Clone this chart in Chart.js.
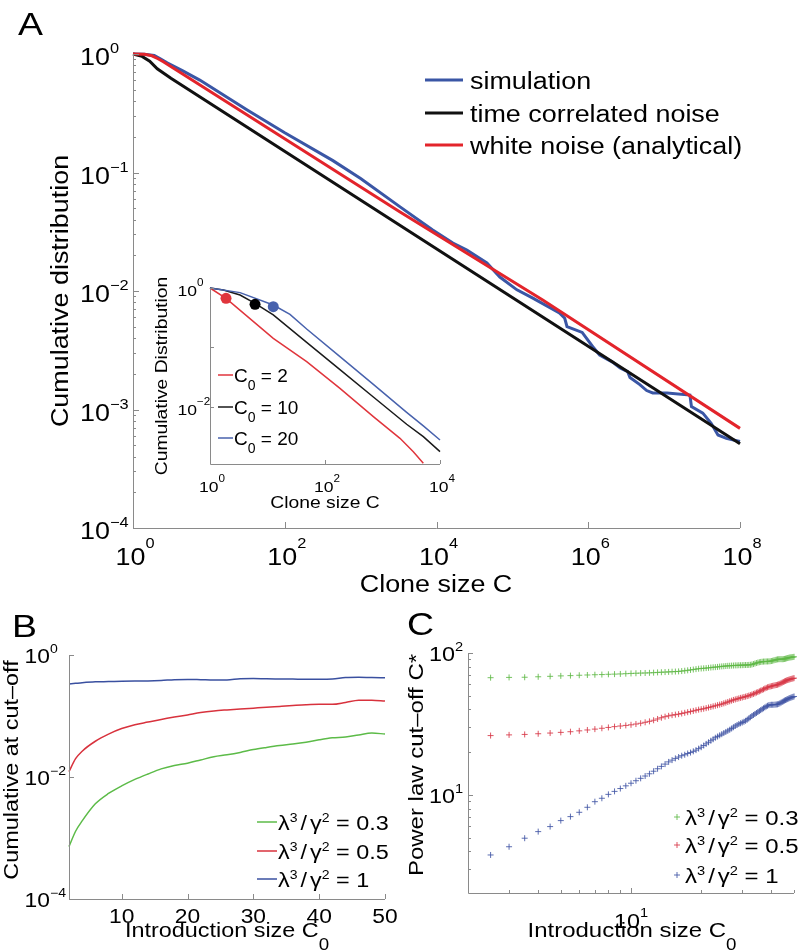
<!DOCTYPE html>
<html><head><meta charset="utf-8">
<script src="https://cdn.jsdelivr.net/npm/chart.js@4.4.1/dist/chart.umd.min.js"></script>
<style>
html,body{margin:0;padding:0;background:#fff;}
#wrap{position:relative;width:799px;height:952px;overflow:hidden;background:#fff;}
canvas{position:absolute;left:0;top:0;}
</style></head><body>
<div id="wrap">
<canvas id="cA" width="799" height="952"></canvas>
<canvas id="cI" width="799" height="952"></canvas>
<canvas id="cB" width="799" height="952"></canvas>
<canvas id="cC" width="799" height="952"></canvas>
</div>
<script>
// ---------------- Panel A (main) ----------------
const seriesNamesA = ['simulation', 'time correlated noise', 'white noise (analytical)'];
const simC = [1, 1.413, 1.905, 2.291, 2.818, 4.467, 7.586, 31.62, 100, 431.5, 1000, 3311, 8913, 16444, 25119, 46132, 68391, 114815, 186209, 416869, 489779, 524807, 831764, 1148154, 1412538, 2089296, 2630268, 3311311, 3548134, 4786301, 5888437, 7079458, 10964782, 21877616, 22908677, 32359366, 41686938, 51286138, 66069345, 1e8];
const simP = [1, 0.9954, 0.9727, 0.912, 0.8414, 0.724, 0.6026, 0.3388, 0.2163, 0.1259, 0.08913, 0.05129, 0.03273, 0.02541, 0.02218, 0.01722, 0.01312, 0.01023, 0.00871, 0.006516, 0.005888, 0.005012, 0.004467, 0.003388, 0.002884, 0.002512, 0.002239, 0.002089, 0.001862, 0.001622, 0.001445, 0.00138, 0.00138, 0.001324, 0.001057, 0.000933, 0.000764, 0.00061, 0.000571, 0.000537];
const tcnC = [1, 1.318, 1.660, 2.089, 3.162, 1e8];
const tcnP = [1, 0.955, 0.871, 0.750, 0.624, 0.000513];
const wnC = [1, 1.413, 1.778, 2.138, 2.512, 3311, 251189, 1e8];
const wnP = [1, 0.9931, 0.966, 0.912, 0.859, 0.04645, 0.008395, 0.000693];
const aXTicks = [1, 1e2, 1e4, 1e6, 1e8];
const aXExp = ['0', '2', '4', '6', '8'];
const aYTicks = [1, 1e-1, 1e-2, 1e-3, 1e-4];
const aYExp = ['0', '\u22121', '\u22122', '\u22123', '\u22124'];

// ---------------- Panel A (inset) ----------------
const insLegend = ['2', '10', '20'];
const insRedC = [1, 1.9, 12.6, 48, 182, 693, 2014, 3436, 5129];
const insRedP = [1, 0.67, 0.1426, 0.0578, 0.0206, 0.00687, 0.00297, 0.001774, 0.00113];
const insBlackC = [1, 1.71, 3.33, 6.07, 12.6, 48, 182, 693, 2630, 5129, 10000];
const insBlackP = [1, 0.925, 0.762, 0.552, 0.352, 0.122, 0.0424, 0.01472, 0.00512, 0.00317, 0.001774];
const insBlueC = [1, 3.33, 12.6, 24.6, 48, 182, 693, 2630, 5129, 10000];
const insBlueP = [1, 0.836, 0.518, 0.3606, 0.2046, 0.0702, 0.02404, 0.00813, 0.0048, 0.00279];
const insDotC = [1.9, 6.07, 12.6];
const insDotP = [0.67, 0.532, 0.485];
const insXTicks = [1, 1e2, 1e4];
const insXExp = ['0', '2', '4'];
const insYTicks = [1, 1e-2];
const insYExp = ['0', '\u22122'];

// ---------------- Panel B ----------------
const ratioLabels = ['0.3', '0.5', '1'];
const bC0 = [2, 3, 4, 6, 8, 10, 12, 14, 16, 18, 20, 22, 24, 26, 28, 30, 32, 34, 36, 38, 40, 42, 44, 46, 48, 50];
const bP03 = [7.21e-4, 1.29e-3, 1.905e-3, 3.63e-3, 5.37e-3, 7.14e-3, 9.12e-3, 1.122e-2, 1.358e-2, 1.549e-2, 1.687e-2, 1.905e-2, 2.148e-2, 2.312e-2, 2.529e-2, 2.818e-2, 3.055e-2, 3.281e-2, 3.467e-2, 3.715e-2, 4.074e-2, 4.385e-2, 4.529e-2, 4.898e-2, 5.248e-2, 5.07e-2];
const bP05 = [1.222e-2, 1.995e-2, 2.649e-2, 3.855e-2, 5.047e-2, 6.223e-2, 7.194e-2, 7.943e-2, 8.77e-2, 9.59e-2, 0.1042, 0.1138, 0.1208, 0.1259, 0.1306, 0.1346, 0.1387, 0.1435, 0.1483, 0.1528, 0.1552, 0.1552, 0.1667, 0.1807, 0.182, 0.1762];
const bP1 = [0.335, 0.343, 0.351, 0.363, 0.367, 0.372, 0.375, 0.376, 0.382, 0.394, 0.398, 0.394, 0.389, 0.391, 0.407, 0.412, 0.407, 0.405, 0.403, 0.400, 0.400, 0.403, 0.427, 0.431, 0.427, 0.425];
const bXTicks = [10, 20, 30, 40, 50];
const bYTicks = [1, 1e-2, 1e-4];
const bYExp = ['0', '\u22122', '\u22124'];

// ---------------- Panel C ----------------
const cC0 = [2.5,3,3.5,4,4.5,5,5.5,6,6.5,7,
  7.5,8,8.5,9,9.5,10,10.5,11,11.5,12,
  12.5,13,13.5,14,14.5,15,15.5,16,16.5,17,
  17.5,18,18.5,19,19.5,20,20.5,21,21.5,22,
  22.5,23,23.5,24,24.5,25,25.5,26,26.5,27,
  27.5,28,28.5,29,29.5,30,30.5,31,31.5,32,
  32.5,33,33.5,34,34.5,35,35.5,36,36.5,37,
  37.5,38,38.5,39,39.5,40,40.5,41,41.5,42,
  42.5,43,43.5,44,44.5,45,45.5,46,46.5,47,
  47.5,48,48.5,49,49.5,50];
const cStar03 = [67,67.3,67.5,68,68.5,69,69.3,69.7,70,70.3,
  70.5,70.8,71,71.2,71.5,71.8,72,72.2,72.3,72.5,
  72.7,73,73.2,73.4,73.6,73.8,74,74.2,74.6,75,
  75.5,76,76.5,77,77.5,77.8,78,78.3,78.6,79,
  79.3,79.5,79.8,80.2,80.5,80.7,81,81.2,81.3,81.5,
  81.6,81.8,81.8,82,82,82.1,82.2,82.3,82.3,82.4,
  82.6,83,83.6,84.3,85,85.6,86.1,86.5,86.8,87,
  87.1,87.2,87.2,87.3,87.5,87.8,88.2,88.8,89.3,89.8,
  90.2,90.4,90.5,90.5,90.4,90.5,90.8,91.2,91.7,92.2,
  92.6,93,93.2,93.4,93.7,94];
const cStar05 = [26.2,26.5,26.7,27,27.3,27.6,27.9,28.3,28.7,29.1,
  29.5,29.9,30.3,30.6,30.9,31.2,31.6,32,32.5,33,
  33.6,34.3,35,35.6,36.1,36.5,36.8,37.1,37.5,37.9,
  38.3,38.7,39.1,39.5,39.9,40.2,40.5,40.9,41.3,41.7,
  42.1,42.5,42.9,43.3,43.7,44.2,44.7,45.2,45.7,46.2,
  46.7,47.1,47.5,47.9,48.3,48.6,49,49.3,49.7,50.1,
  50.5,51,51.5,52,52.6,53.1,53.7,54.3,54.9,55.5,
  56.2,56.8,57.3,57.7,58.1,58.4,58.7,59,59.3,59.5,
  59.8,60.2,60.7,61.3,61.9,62.5,63.1,63.6,64.1,64.5,
  64.9,65.2,65.6,65.9,66.2,66.5];
const cStar1 = [3.78,4.32,4.96,5.52,5.99,6.6,7.04,7.55,8.19,8.97,
  9.48,10.1,10.6,11.1,11.6,12.1,12.6,13.1,13.6,14.1,
  14.7,15.3,15.9,16.5,17.1,17.6,18.1,18.5,18.9,19.2,
  19.6,19.9,20.3,20.7,21.2,21.7,22.3,22.9,23.5,24.1,
  24.7,25.3,25.8,26.3,26.8,27.3,27.8,28.3,28.8,29.4,
  30,30.6,31.1,31.6,32,32.4,32.8,33.3,33.9,34.6,
  35.3,36,36.6,37.2,37.8,38.4,39,39.6,40.2,40.8,
  41.4,42,42.5,42.9,43.1,43.2,43.2,43.2,43.3,43.4,
  43.5,43.8,44.2,44.7,45.2,45.7,46.2,46.6,47,47.4,
  47.8,48.2,48.5,48.8,49.1,49.4];
const cXTicks = [10];
const cXExp = ['1'];
const cXMinor = [3, 4, 5, 6, 7, 8, 9, 20, 30, 40, 50];
const cYTicks = [100, 10];
const cYExp = ['2', '1'];
const cYMinor = [3, 4, 5, 6, 7, 8, 9, 20, 30, 40, 50, 60, 70, 80, 90];

// ---------------- helpers ----------------
const FONT = '"Liberation Sans", Arial, Helvetica, sans-serif';
const SX = 1.17;
const AX = '#8a8a8a';
const pts = (xs, ys) => xs.map((x, i) => ({x: x, y: ys[i]}));
function setFont(ctx, s) { ctx.font = s + 'px ' + FONT; }
function partsWidth(ctx, parts, sx) {
  let w = 0;
  for (const p of parts) { if (p.gap) { w += p.gap; continue; } setFont(ctx, p.s); w += ctx.measureText(p.t).width * sx; }
  return w;
}
function rich(ctx, parts, x, y, align, rot, sx) {
  sx = sx || SX;
  ctx.save();
  ctx.translate(x, y);
  if (rot) ctx.rotate(rot);
  const w = partsWidth(ctx, parts, sx);
  let cx = align === 'center' ? -w / 2 : (align === 'right' ? -w : 0);
  ctx.fillStyle = '#000'; ctx.textAlign = 'left'; ctx.textBaseline = 'alphabetic';
  for (const p of parts) {
    if (p.gap) { cx += p.gap; continue; }
    setFont(ctx, p.s);
    ctx.save(); ctx.translate(cx, p.dy || 0); ctx.scale(sx, 1); ctx.fillText(p.t, 0, 0); ctx.restore();
    cx += ctx.measureText(p.t).width * sx;
  }
  ctx.restore();
}
function txt(ctx, t, s, x, y, align, rot, sx) { rich(ctx, [{t: t, s: s}], x, y, align, rot, sx); }
function powParts(exp, s, es, raise) { return [{t: '10', s: s}, {t: exp, s: es, dy: -raise}]; }
function w10(ctx, s, sx) { setFont(ctx, s); return ctx.measureText('10').width * (sx || SX); }
function axes(ctx, ca) {
  ctx.save(); ctx.strokeStyle = AX; ctx.lineWidth = 1;
  ctx.beginPath();
  ctx.moveTo(Math.round(ca.left) + 0.5, Math.round(ca.top));
  ctx.lineTo(Math.round(ca.left) + 0.5, Math.round(ca.bottom) + 0.5);
  ctx.lineTo(Math.round(ca.right), Math.round(ca.bottom) + 0.5);
  ctx.stroke(); ctx.restore();
}
function xTick(ctx, ca, px, len) {
  ctx.save(); ctx.strokeStyle = AX; ctx.lineWidth = 1; ctx.beginPath();
  const x = Math.round(px) + 0.5; ctx.moveTo(x, ca.bottom); ctx.lineTo(x, ca.bottom - len); ctx.stroke(); ctx.restore();
}
function yTick(ctx, ca, py, len) {
  ctx.save(); ctx.strokeStyle = AX; ctx.lineWidth = 1; ctx.beginPath();
  const y = Math.round(py) + 0.5; ctx.moveTo(ca.left, y); ctx.lineTo(ca.left + len, y); ctx.stroke(); ctx.restore();
}
function hseg(ctx, x1, x2, y, col, lw) {
  ctx.save(); ctx.strokeStyle = col; ctx.lineWidth = lw; ctx.beginPath(); ctx.moveTo(x1, y); ctx.lineTo(x2, y); ctx.stroke(); ctx.restore();
}
function ratioParts(val, s, ss, raise) {
  return [{t: '\u03bb', s: s}, {t: '3', s: ss, dy: -raise}, {gap: 3}, {t: '/', s: s}, {gap: 3}, {t: '\u03b3', s: s}, {t: '2', s: ss, dy: -raise}, {t: ' = ' + val, s: s}];
}
const baseOpts = (pad, xs, ys) => ({
  responsive: false, animation: false, devicePixelRatio: 1, events: [],
  layout: {padding: pad},
  plugins: {legend: {display: false}, tooltip: {enabled: false}, title: {display: false}},
  scales: {x: Object.assign({display: false}, xs), y: Object.assign({display: false}, ys)}
});

// colours
const A_BLUE = '#3a56a5', A_BLACK = '#111111', A_RED = '#e3242b';
const I_RED = '#e0353c', I_BLACK = '#1a1a1a', I_BLUE = '#4862ad';
const B_GREEN = '#5cbb48', B_RED = '#d8323d', B_BLUE = '#3a50a0';
const C_GREEN = 'rgba(95,185,70,0.85)', C_RED = 'rgba(215,55,70,0.85)', C_BLUE = 'rgba(65,85,165,0.85)';

// ---------------- Chart A ----------------
const lineDs = (d, col, lw) => ({data: d, borderColor: col, backgroundColor: col, borderWidth: lw, showLine: true, pointRadius: 0, clip: false, tension: 0, fill: false});
new Chart(document.getElementById('cA'), {
  type: 'scatter',
  data: {datasets: [
    lineDs(pts(wnC, wnP), A_RED, 3),
    lineDs(pts(tcnC, tcnP), A_BLACK, 3),
    lineDs(pts(simC, simP), A_BLUE, 3)
  ]},
  options: baseOpts({left: 133, right: 59, top: 54, bottom: 424},
    {type: 'logarithmic', min: 1, max: 1e8}, {type: 'logarithmic', min: 1e-4, max: 1}),
  plugins: [{id: 'decA', afterDraw(chart) {
    const ctx = chart.ctx, ca = chart.chartArea, sx = chart.scales.x, sy = chart.scales.y;
    axes(ctx, ca);
    aYTicks.forEach((v, i) => {
      const py = sy.getPixelForValue(v);
      yTick(ctx, ca, py, 6);
      rich(ctx, powParts(aYExp[i], 23, 14, 12), 110 - w10(ctx, 23), py + 11, 'left');
    });
    for (let k = -4; k < 0; k++) for (let m = 2; m <= 9; m++) yTick(ctx, ca, sy.getPixelForValue(m * Math.pow(10, k)), 3);
    aXTicks.forEach((v, i) => {
      const px = sx.getPixelForValue(v);
      xTick(ctx, ca, px, 6);
      rich(ctx, powParts(aXExp[i], 23, 14, 17), px + 2, 565, 'center');
    });
    txt(ctx, 'Clone size C', 23, 436, 592, 'center');
    txt(ctx, 'Cumulative distribution', 23, 68, 291, 'center', -Math.PI / 2);
    const cols = [A_BLUE, A_BLACK, A_RED], ly = [80, 113, 145];
    seriesNamesA.forEach((n, i) => { hseg(ctx, 425, 463, ly[i], cols[i], 3); txt(ctx, n, 23, 470, ly[i] + 9, 'left'); });
    txt(ctx, 'A', 32, 18, 35, 'left');
  }}]
});

// ---------------- Inset ----------------
new Chart(document.getElementById('cI'), {
  type: 'scatter',
  data: {datasets: [
    {data: pts(insDotC, insDotP), pointRadius: 5.5, pointBackgroundColor: [I_RED, '#000', I_BLUE], pointBorderWidth: 0, showLine: false, clip: false},
    lineDs(pts(insBlueC, insBlueP), I_BLUE, 1.5),
    lineDs(pts(insBlackC, insBlackP), I_BLACK, 1.5),
    lineDs(pts(insRedC, insRedP), I_RED, 1.5)
  ]},
  options: baseOpts({left: 210, right: 359, top: 288, bottom: 488},
    {type: 'logarithmic', min: 1, max: 1e4}, {type: 'logarithmic', min: 0.0011, max: 1}),
  plugins: [{id: 'decI', afterDraw(chart) {
    const ctx = chart.ctx, ca = chart.chartArea, sx = chart.scales.x, sy = chart.scales.y;
    axes(ctx, ca);
    insYTicks.forEach((v, i) => {
      const py = sy.getPixelForValue(v);
      yTick(ctx, ca, py, 4);
      rich(ctx, powParts(insYExp[i], 15, 10, 10), 197 - w10(ctx, 15), py + 8, 'left');
    });
    yTick(ctx, ca, sy.getPixelForValue(0.1), 4);
    insXTicks.forEach((v, i) => {
      const px = sx.getPixelForValue(v);
      xTick(ctx, ca, px, 4);
      rich(ctx, powParts(insXExp[i], 15, 10, 10), px + 2, 492, 'center');
    });
    txt(ctx, 'Clone size C', 16.5, 325, 508, 'center');
    txt(ctx, 'Cumulative Distribution', 16.5, 167, 376, 'center', -Math.PI / 2);
    const cols = [I_RED, I_BLACK, I_BLUE], ly = [375, 407, 438];
    insLegend.forEach((n, i) => {
      hseg(ctx, 218, 233, ly[i], cols[i], 1.5);
      rich(ctx, [{t: 'C', s: 19}, {t: '0', s: 14, dy: 8}, {t: ' = ' + n, s: 19}], 234, ly[i] + 7, 'left', 0, 1.0);
    });
  }}]
});

// ---------------- Chart B ----------------
new Chart(document.getElementById('cB'), {
  type: 'scatter',
  data: {datasets: [
    Object.assign(lineDs(pts(bC0, bP1), B_BLUE, 1.5), {cubicInterpolationMode: 'monotone'}),
    Object.assign(lineDs(pts(bC0, bP05), B_RED, 1.5), {cubicInterpolationMode: 'monotone'}),
    Object.assign(lineDs(pts(bC0, bP03), B_GREEN, 1.5), {cubicInterpolationMode: 'monotone'})
  ]},
  options: baseOpts({left: 69, right: 414, top: 655, bottom: 53},
    {type: 'linear', min: 2, max: 50}, {type: 'logarithmic', min: 1e-4, max: 1}),
  plugins: [{id: 'decB', afterDraw(chart) {
    const ctx = chart.ctx, ca = chart.chartArea, sx = chart.scales.x, sy = chart.scales.y;
    axes(ctx, ca);
    bYTicks.forEach((v, i) => {
      const py = sy.getPixelForValue(v);
      yTick(ctx, ca, py, 5);
      rich(ctx, powParts(bYExp[i], 19.5, 12, 10), 50 - w10(ctx, 19.5), py + 8, 'left');
    });
    bXTicks.forEach((v) => {
      const px = sx.getPixelForValue(v);
      xTick(ctx, ca, px, 5);
      txt(ctx, String(v), 19.5, px, 923, 'center');
    });
    rich(ctx, [{t: 'Introduction size C', s: 20}, {t: '0', s: 16, dy: 13}], 227, 937, 'center');
    txt(ctx, 'Cumulative at cut\u2013off', 20, 18, 770, 'center', -Math.PI / 2);
    const cols = [B_GREEN, B_RED, B_BLUE], ly = [822, 851, 879];
    ratioLabels.forEach((n, i) => { hseg(ctx, 257, 277, ly[i], cols[i], 1.5); rich(ctx, ratioParts(n, 20, 12, 8), 278, ly[i] + 8, 'left'); });
    txt(ctx, 'B', 32, 12, 637, 'left');
  }}]
});

// ---------------- Chart C ----------------
const markDs = (d, col) => ({data: d, pointStyle: 'cross', pointRadius: 3, borderColor: col, pointBorderWidth: 1, showLine: false, clip: false});
new Chart(document.getElementById('cC'), {
  type: 'scatter',
  data: {datasets: [
    markDs(pts(cC0, cStar1), C_BLUE),
    markDs(pts(cC0, cStar05), C_RED),
    markDs(pts(cC0, cStar03), C_GREEN)
  ]},
  options: baseOpts({left: 468, right: 2, top: 653, bottom: 59},
    {type: 'logarithmic', min: 2, max: 50}, {type: 'logarithmic', min: 2.04, max: 100}),
  plugins: [{id: 'decC', afterDraw(chart) {
    const ctx = chart.ctx, ca = chart.chartArea, sx = chart.scales.x, sy = chart.scales.y;
    axes(ctx, ca);
    cYTicks.forEach((v, i) => {
      const py = sy.getPixelForValue(v);
      yTick(ctx, ca, py, 5);
      rich(ctx, powParts(cYExp[i], 20, 12.5, 10), 455 - w10(ctx, 20), py + 8, 'left');
    });
    cYMinor.forEach(v => yTick(ctx, ca, sy.getPixelForValue(v), 3));
    cXTicks.forEach((v, i) => {
      const px = sx.getPixelForValue(v);
      xTick(ctx, ca, px, 5);
      rich(ctx, powParts(cXExp[i], 20, 12.5, 11), px, 928, 'center');
    });
    cXMinor.forEach(v => xTick(ctx, ca, sx.getPixelForValue(v), 3));
    rich(ctx, [{t: 'Introduction size C', s: 20.5}, {t: '0', s: 16, dy: 13}], 632, 937, 'center');
    txt(ctx, 'Power law cut\u2013off C*', 20.5, 423, 765, 'center', -Math.PI / 2);
    const cols = [C_GREEN, C_RED, C_BLUE], ly = [817, 845, 875];
    ratioLabels.forEach((n, i) => {
      ctx.save(); ctx.strokeStyle = cols[i]; ctx.lineWidth = 1; ctx.beginPath();
      ctx.moveTo(674, ly[i]); ctx.lineTo(680, ly[i]); ctx.moveTo(677, ly[i] - 3); ctx.lineTo(677, ly[i] + 3); ctx.stroke(); ctx.restore();
      rich(ctx, ratioParts(n, 20.5, 12.5, 8), 685, ly[i] + 8, 'left');
    });
    txt(ctx, 'C', 32, 407, 635, 'left');
  }}]
});
</script>
</body></html>
